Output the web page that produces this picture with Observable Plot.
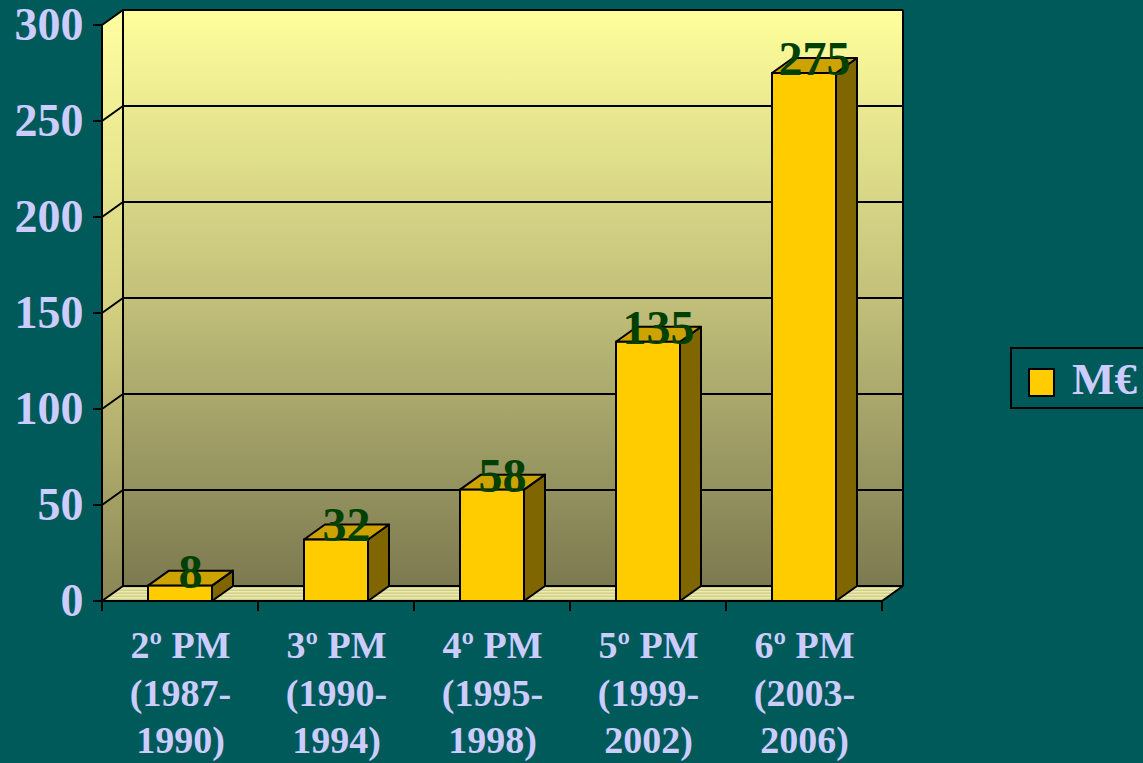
<!DOCTYPE html>
<html>
<head>
<meta charset="utf-8">
<script src="https://cdn.jsdelivr.net/npm/d3@7"></script>
<script src="https://cdn.jsdelivr.net/npm/@observablehq/plot@0.6"></script>
<style>
  html, body { margin: 0; padding: 0; background: #005A5A; overflow: hidden; }
  #wrap { position: relative; width: 1143px; height: 763px; font-family: "Liberation Serif", "Times New Roman", serif; }
  #chart { position: absolute; left: 0; top: 0; }
  #chart svg text { font-weight: bold; }
  #legend { position: absolute; left: 1010px; top: 347px; width: 150px; height: 62px; border: 2px solid #000; box-sizing: border-box; }
  #legend .sw { position: absolute; left: 16px; top: 19px; width: 27px; height: 29px; background: #FFCC00; border: 2px solid #000; box-sizing: border-box; }
  #legend .lb { position: absolute; left: 60px; top: 4px; font-size: 45px; font-weight: bold; color: #CCCCFF; line-height: 52px; white-space: nowrap; }
</style>
</head>
<body>
<div id="wrap">
  <div id="chart"></div>
  <div id="legend"><div class="sw"></div><div class="lb"></div></div>
</div>
<script>
// ---- data ----
const plans = ["2º PM", "3º PM", "4º PM", "5º PM", "6º PM"];
const periodStart = ["(1987-", "(1990-", "(1995-", "(1999-", "(2003-"];
const periodEnd = ["1990)", "1994)", "1998)", "2002)", "2006)"];
const values = [8, 32, 58, 135, 275];
const yTicks = [0, 50, 100, 150, 200, 250, 300];
const seriesName = "M€";

// ---- styling constants ----
const DX = 21, DY = 15;           // 3D depth offset (px)
const BAR_INSET = 46;             // bar inset within band (px)
const FRONT = "#FFCC00", TOP = "#CCA300", SIDE = "#806600";
const LABEL = "#CCCCFF";
const SW = 2;

const rows = plans.map((p, i) => ({cat: p, value: values[i], l1: p, l2: periodStart[i], l3: periodEnd[i]}));

function poly(g, pts, fill, stroke = "#000", sw = SW) {
  g.append("path")
    .attr("d", "M" + pts.map(p => p.join(",")).join("L") + "Z")
    .attr("fill", fill).attr("stroke", stroke).attr("stroke-width", sw).attr("stroke-linejoin", "round");
}
function line(g, pts, sw = SW) {
  g.append("path").attr("d", "M" + pts.map(p => p.join(",")).join("L"))
    .attr("fill", "none").attr("stroke", "#000").attr("stroke-width", sw).attr("stroke-linejoin", "round");
}

// walls, floor, gridlines, axis lines and ticks
function walls(index, scales, values_, dims) {
  const {x, y} = scales;
  const g = d3.create("svg:g");
  const defs = g.append("defs");
  const bg = defs.append("linearGradient").attr("id", "backGrad").attr("x1", 0).attr("y1", 0).attr("x2", 0).attr("y2", 1);
  bg.append("stop").attr("offset", "0%").attr("stop-color", "#FFFF9C");
  bg.append("stop").attr("offset", "50%").attr("stop-color", "#C2C07A");
  bg.append("stop").attr("offset", "100%").attr("stop-color", "#7C7A50");
  const sg = defs.append("linearGradient").attr("id", "sideGrad").attr("x1", 0).attr("y1", 0).attr("x2", 0).attr("y2", 1);
  sg.append("stop").attr("offset", "0%").attr("stop-color", "#FFFFA0");
  sg.append("stop").attr("offset", "50%").attr("stop-color", "#D4D080");
  sg.append("stop").attr("offset", "100%").attr("stop-color", "#8A8656");
  const pat = defs.append("pattern").attr("id", "floorPat").attr("patternUnits", "userSpaceOnUse").attr("width", 8).attr("height", 3);
  pat.append("rect").attr("width", 8).attr("height", 3).attr("fill", "#CFCE8E");
  pat.append("rect").attr("width", 8).attr("height", 1.5).attr("fill", "#EDECAA");

  const x0 = dims.marginLeft, x1 = dims.width - dims.marginRight;
  const y0 = y(yTicks[0]), yT = y(yTicks[yTicks.length - 1]);

  poly(g, [[x0, yT], [x0 + DX, yT - DY], [x0 + DX, y0 - DY], [x0, y0]], "url(#sideGrad)", "none");
  poly(g, [[x0 + DX, yT - DY], [x1 + DX, yT - DY], [x1 + DX, y0 - DY], [x0 + DX, y0 - DY]], "url(#backGrad)", "none");
  poly(g, [[x0, y0], [x1, y0], [x1 + DX, y0 - DY], [x0 + DX, y0 - DY]], "url(#floorPat)", "none");

  for (const v of yTicks) {
    const yy = y(v);
    line(g, [[x0, yy], [x0 + DX, yy - DY], [x1 + DX, yy - DY]]);
    line(g, [[x0 - 9, yy], [x0, yy]]);
  }
  line(g, [[x0 + DX, yT - DY], [x0 + DX, y0 - DY]]);
  line(g, [[x1 + DX, yT - DY], [x1 + DX, y0 - DY]]);
  line(g, [[x1, y0], [x1 + DX, y0 - DY]]);
  // axes
  line(g, [[x0, yT], [x0, y0]]);
  line(g, [[x0 - 9, y0], [x1, y0]]);
  const bounds = plans.map(c => x(c)).concat([x(plans[plans.length - 1]) + x.bandwidth()]);
  for (const bx of bounds) line(g, [[bx, y0], [bx, y0 + 10]]);
  return g.node();
}

// top and side faces of bars
function barFaces(index, scales) {
  const {x, y} = scales;
  const g = d3.create("svg:g");
  const bw = x.bandwidth();
  rows.forEach(d => {
    const xl = x(d.cat) + BAR_INSET, xr = x(d.cat) + bw - BAR_INSET;
    const yt = y(d.value), yb = y(0);
    poly(g, [[xr, yt], [xr + DX, yt - DY], [xr + DX, yb - DY], [xr, yb]], SIDE);
    poly(g, [[xl, yt], [xl + DX, yt - DY], [xr + DX, yt - DY], [xr, yt]], TOP);
  });
  return g.node();
}

const chart = Plot.plot({
  width: 1143,
  height: 763,
  marginLeft: 102,
  marginRight: 261,
  marginTop: 25,
  marginBottom: 162,
  style: {background: "transparent", fontFamily: "'Liberation Serif', 'Times New Roman', serif", fontWeight: "bold", overflow: "visible"},
  x: {domain: plans, padding: 0, axis: null},
  y: {domain: [0, 300], axis: null, label: null},
  marks: [
    walls,
    barFaces,
    Plot.barY(rows, {x: "cat", y: "value", fill: FRONT, stroke: "#000", strokeWidth: SW, insetLeft: BAR_INSET, insetRight: BAR_INSET}),
    Plot.text(rows, {x: "cat", y: "value", text: d => String(d.value), dx: 10, dy: -14, fontSize: 48, fontWeight: "bold", fill: "#004000", lineAnchor: "middle"}),
    Plot.axisY({ticks: yTicks, label: null, tickSize: 0, tickPadding: 19, fontSize: 46, fontWeight: "bold", fill: LABEL, stroke: "none", tickFormat: d => String(d)}),
    Plot.text(rows, {x: "cat", y: () => 0, text: "l1", dy: 56, lineAnchor: "bottom", fontSize: 38, fontWeight: "bold", fill: LABEL}),
    Plot.text(rows, {x: "cat", y: () => 0, text: "l2", dy: 104, lineAnchor: "bottom", fontSize: 38, fontWeight: "bold", fill: LABEL}),
    Plot.text(rows, {x: "cat", y: () => 0, text: "l3", dy: 151, lineAnchor: "bottom", fontSize: 38, fontWeight: "bold", fill: LABEL})
  ]
});
document.getElementById("chart").appendChild(chart);
document.querySelector("#legend .lb").textContent = seriesName;
</script>
</body>
</html>
